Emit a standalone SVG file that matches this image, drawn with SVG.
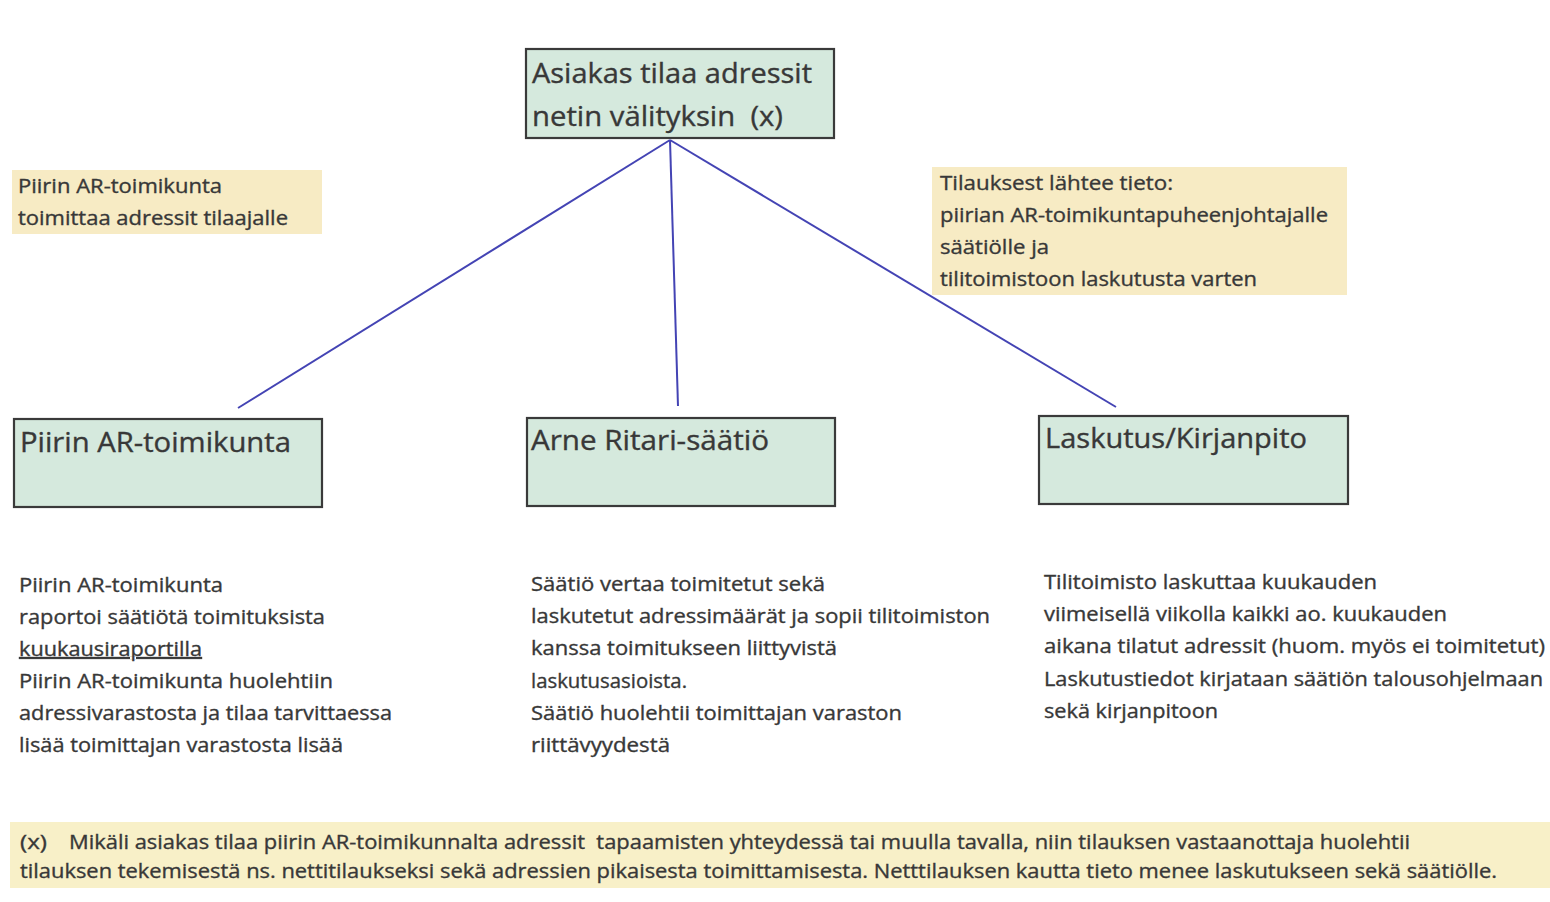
<svg xmlns="http://www.w3.org/2000/svg" width="1550" height="902" viewBox="0 0 1550 902">
<style>
.box{fill:#d5e9dd;stroke:#3a3a3a;stroke-width:2.2}
.note{fill:#f7ebc4}
.foot{fill:#f8f0c8}
text{font-family:"Open Sans","Liberation Sans",sans-serif;fill:#383838;stroke:#383838;stroke-width:0.35}
.t{font-size:27px}
.s{font-size:19.5px}
.conn{stroke:#4444b4;stroke-width:2;fill:none}
</style>
<rect width="1550" height="902" fill="#ffffff"/>
<g id="connectors">
<line class="conn" x1="670" y1="140" x2="238" y2="408"/>
<line class="conn" x1="670" y1="140" x2="678" y2="406"/>
<line class="conn" x1="670" y1="140" x2="1116" y2="407"/>
</g>
<g id="node-top">
<rect class="box" x="526" y="49" width="308" height="89"/>
<text class="t" x="532" y="83" textLength="280" lengthAdjust="spacingAndGlyphs">Asiakas tilaa adressit</text>
<text class="t" x="532" y="126" textLength="251" lengthAdjust="spacingAndGlyphs" xml:space="preserve">netin välityksin  (x)</text>
</g>
<g id="note-left">
<rect class="note" x="12" y="170" width="310" height="64"/>
<text class="s" x="18" y="193" textLength="204" lengthAdjust="spacingAndGlyphs">Piirin AR-toimikunta</text>
<text class="s" x="18" y="225" textLength="270" lengthAdjust="spacingAndGlyphs">toimittaa adressit tilaajalle</text>
</g>
<g id="note-right">
<rect class="note" x="932" y="167" width="415" height="128"/>
<text class="s" x="940" y="190" textLength="233" lengthAdjust="spacingAndGlyphs">Tilauksest lähtee tieto:</text>
<text class="s" x="940" y="222" textLength="388" lengthAdjust="spacingAndGlyphs">piirian AR-toimikuntapuheenjohtajalle</text>
<text class="s" x="940" y="254" textLength="109" lengthAdjust="spacingAndGlyphs">säätiölle ja</text>
<text class="s" x="940" y="286" textLength="317" lengthAdjust="spacingAndGlyphs">tilitoimistoon laskutusta varten</text>
</g>
<g id="node-piiri">
<rect class="box" x="14" y="419" width="308" height="88"/>
<text class="t" x="20" y="452" textLength="271" lengthAdjust="spacingAndGlyphs">Piirin AR-toimikunta</text>
</g>
<g id="node-saatio">
<rect class="box" x="527" y="418" width="308" height="88"/>
<text class="t" x="531" y="450" textLength="238" lengthAdjust="spacingAndGlyphs">Arne Ritari-säätiö</text>
</g>
<g id="node-laskutus">
<rect class="box" x="1039" y="416" width="309" height="88"/>
<text class="t" x="1045" y="448" textLength="262" lengthAdjust="spacingAndGlyphs">Laskutus/Kirjanpito</text>
</g>
<g id="text-left">
<text class="s" x="19" y="592" textLength="204" lengthAdjust="spacingAndGlyphs">Piirin AR-toimikunta</text>
<text class="s" x="19" y="624" textLength="306" lengthAdjust="spacingAndGlyphs">raportoi säätiötä toimituksista</text>
<text class="s" x="19" y="656" textLength="183" lengthAdjust="spacingAndGlyphs" text-decoration="underline">kuukausiraportilla</text>
<text class="s" x="19" y="688" textLength="314" lengthAdjust="spacingAndGlyphs">Piirin AR-toimikunta huolehtiin</text>
<text class="s" x="19" y="720" textLength="373" lengthAdjust="spacingAndGlyphs">adressivarastosta ja tilaa tarvittaessa</text>
<text class="s" x="19" y="752" textLength="324" lengthAdjust="spacingAndGlyphs">lisää toimittajan varastosta lisää</text>
</g>
<g id="text-mid">
<text class="s" x="531" y="591" textLength="294" lengthAdjust="spacingAndGlyphs">Säätiö vertaa toimitetut sekä</text>
<text class="s" x="531" y="623" textLength="459" lengthAdjust="spacingAndGlyphs">laskutetut adressimäärät ja sopii tilitoimiston</text>
<text class="s" x="531" y="655" textLength="306" lengthAdjust="spacingAndGlyphs">kanssa toimitukseen liittyvistä</text>
<text class="s" x="531" y="688" textLength="156" lengthAdjust="spacingAndGlyphs">laskutusasioista.</text>
<text class="s" x="531" y="720" textLength="371" lengthAdjust="spacingAndGlyphs">Säätiö huolehtii toimittajan varaston</text>
<text class="s" x="531" y="752" textLength="139" lengthAdjust="spacingAndGlyphs">riittävyydestä</text>
</g>
<g id="text-right">
<text class="s" x="1044" y="589" textLength="333" lengthAdjust="spacingAndGlyphs">Tilitoimisto laskuttaa kuukauden</text>
<text class="s" x="1044" y="621" textLength="403" lengthAdjust="spacingAndGlyphs">viimeisellä viikolla kaikki ao. kuukauden</text>
<text class="s" x="1044" y="653" textLength="501" lengthAdjust="spacingAndGlyphs">aikana tilatut adressit (huom. myös ei toimitetut)</text>
<text class="s" x="1044" y="686" textLength="499" lengthAdjust="spacingAndGlyphs">Laskutustiedot kirjataan säätiön talousohjelmaan</text>
<text class="s" x="1044" y="718" textLength="174" lengthAdjust="spacingAndGlyphs">sekä kirjanpitoon</text>
</g>
<g id="footnote">
<rect class="foot" x="10" y="822" width="1540" height="66"/>
<text class="s" x="20" y="849" textLength="27" lengthAdjust="spacingAndGlyphs">(x)</text>
<text class="s" x="69" y="849" textLength="1341" lengthAdjust="spacingAndGlyphs" xml:space="preserve">Mikäli asiakas tilaa piirin AR-toimikunnalta adressit  tapaamisten yhteydessä tai muulla tavalla, niin tilauksen vastaanottaja huolehtii</text>
<text class="s" x="20" y="878" textLength="1477" lengthAdjust="spacingAndGlyphs">tilauksen tekemisestä ns. nettitilaukseksi sekä adressien pikaisesta toimittamisesta. Netttilauksen kautta tieto menee laskutukseen sekä säätiölle.</text>
</g>
</svg>
